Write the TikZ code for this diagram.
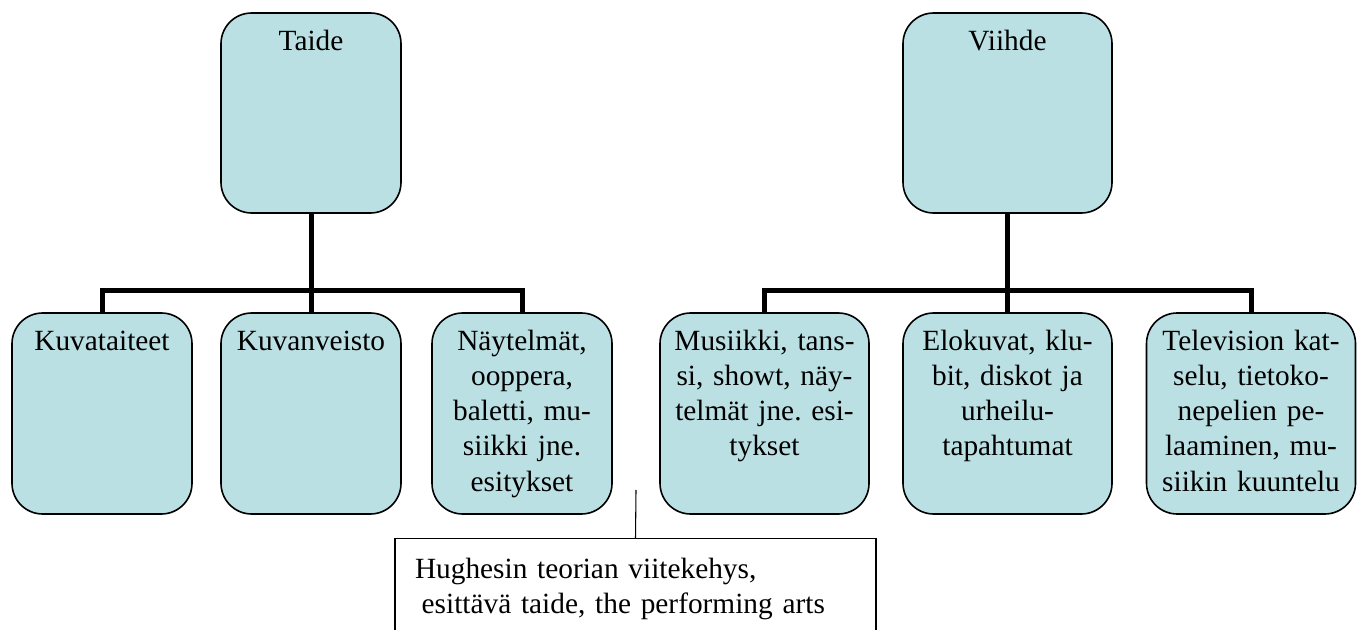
\documentclass[tikz,border=0pt]{standalone}
\usepackage{fontspec}
\setmainfont{Liberation Serif}
\frenchspacing
\definecolor{boxfill}{RGB}{187,224,227}
\begin{document}
\begin{tikzpicture}[x=0.75pt,y=-0.75pt,
  font=\fontsize{22}{26.25}\selectfont,
  cat/.style={draw,line width=1.2pt,fill=boxfill,rounded corners=23pt,inner sep=0pt,
    align=center,text width=135pt,text height=28.5pt,text depth=121.5pt},
  catw/.style={cat,text width=156.75pt},
  sub/.style={text depth=122.25pt},
  bus/.style={line width=3.75pt},
  note/.style={draw,line width=0.9pt,inner sep=0pt,inner xsep=15pt,align=left,
    text width=330.75pt,text height=30pt,text depth=90pt}]
\useasboundingbox (0,0) rectangle (1362,630);
\node[cat] (taide) at (311,113) {Taide};
\node[catw] (viihde) at (1007.5,113) {Viihde};
\node[cat,sub] (kuvataiteet) at (102,413.5) {Kuvataiteet};
\node[cat,sub] (kuvanveisto) at (311,413.5) {Kuvanveisto};
\node[cat,sub] (naytelmat) at (522,413.5) {Näytelmät,\\ooppera,\\baletti, mu-\\siikki jne.\\esitykset};
\node[catw,sub] (musiikki) at (764.5,413.5) {Musiikki, tans-\\si, showt, näy-\\telmät jne. esi-\\tykset};
\node[catw,sub] (elokuvat) at (1007.5,413.5) {Elokuvat, klu-\\bit, diskot ja\\urheilu-\\tapahtumat};
\node[catw,sub] (tv) at (1251,413.5) {Television kat-\\selu, tietoko-\\nepelien pe-\\laaminen, mu-\\siikin kuuntelu};
\coordinate (lbus) at (311,291);
\coordinate (rbus) at (1007.5,291);
\draw[bus] (taide.south) -- (kuvanveisto.north);
\draw[bus] (kuvataiteet.north) |- (lbus) -| (naytelmat.north);
\draw[bus] (viihde.south) -- (elokuvat.north);
\draw[bus] (musiikki.north) |- (rbus) -| (tv.north);
\node[note,anchor=north] (hughes) at (635.5,538)
  {Hughesin teorian viitekehys,\\\hspace*{5pt}esittävä taide, the performing arts};
\coordinate (tip) at (636,490);
\draw[line width=0.8pt] (tip) -- (hughes.north);
\end{tikzpicture}
\end{document}
